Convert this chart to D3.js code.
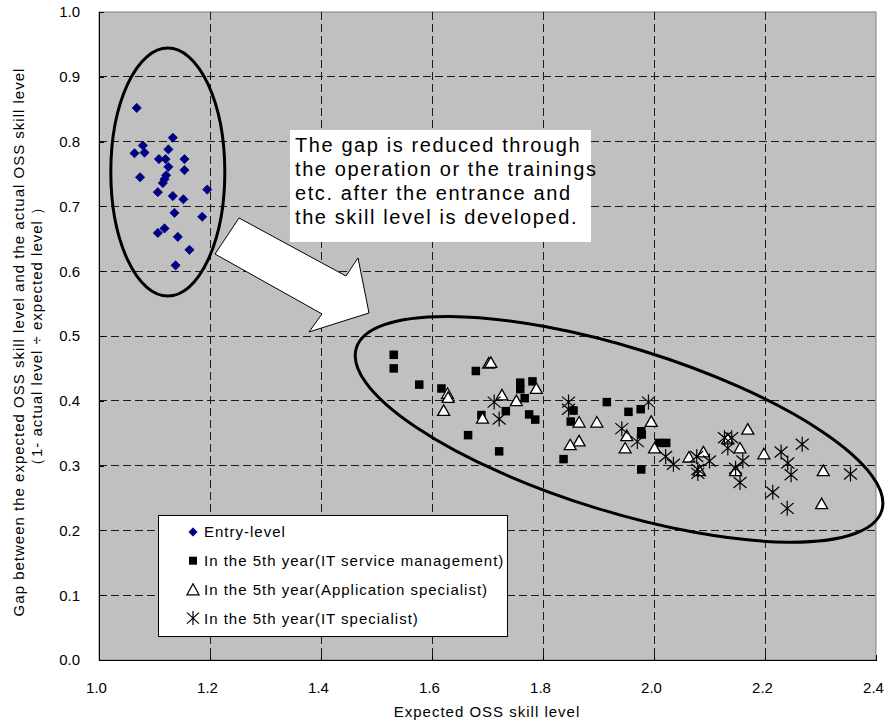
<!DOCTYPE html>
<html>
<head>
<meta charset="utf-8">
<script src="https://cdn.jsdelivr.net/npm/d3@7"></script>
<style>
  body { margin: 0; background: #fff; }
  text { font-family: "Liberation Sans", Arial, sans-serif; fill: #000; }
</style>
</head>
<body>
<svg id="chart" width="885" height="724"></svg>
<script>
// Entry-level staff: [expected skill level, gap]
const entryLevel = [
  [1.068,0.852],[1.133,0.806],[1.079,0.794],[1.064,0.782],[1.082,0.783],[1.125,0.788],
  [1.108,0.773],[1.120,0.773],[1.154,0.773],[1.125,0.761],[1.154,0.756],[1.074,0.745],
  [1.121,0.748],[1.118,0.742],[1.115,0.736],[1.195,0.726],[1.106,0.722],[1.133,0.716],
  [1.152,0.711],[1.136,0.690],[1.186,0.684],[1.106,0.659],[1.118,0.666],[1.142,0.653],
  [1.163,0.633],[1.138,0.609]
];
// 5th year, IT service management
const itServiceMgmt = [
  [1.531,0.471],[1.531,0.450],[1.577,0.425],[1.679,0.446],[1.617,0.419],[1.759,0.428],
  [1.781,0.430],[1.759,0.418],[1.767,0.404],[1.689,0.378],[1.733,0.384],[1.775,0.379],
  [1.786,0.371],[1.665,0.347],[1.721,0.322],[1.915,0.398],[1.855,0.385],[1.954,0.383],
  [1.976,0.387],[1.850,0.368],[1.977,0.353],[1.978,0.348],[2.009,0.335],[2.022,0.335],
  [1.837,0.310],[1.977,0.294]
];
// 5th year, application specialist
const appSpecialist = [
  [1.702,0.457],[1.706,0.458],[1.628,0.410],[1.629,0.404],[1.621,0.384],[1.691,0.372],
  [1.726,0.408],[1.752,0.399],[1.788,0.418],[1.865,0.366],[1.897,0.366],[1.995,0.367],
  [1.865,0.337],[1.849,0.331],[1.951,0.345],[1.948,0.326],[2.001,0.326],[2.063,0.312],
  [2.089,0.320],[2.169,0.355],[2.155,0.326],[2.198,0.317],[2.147,0.291],[2.305,0.291],
  [2.302,0.240],[2.082,0.291],[2.133,0.340]
];
// 5th year, IT specialist
const itSpecialist = [
  [1.712,0.398],[1.721,0.372],[1.846,0.398],[1.846,0.387],[1.990,0.398],[1.942,0.357],
  [1.970,0.337],[2.021,0.314],[2.035,0.302],[2.077,0.314],[2.079,0.294],[2.127,0.343],
  [2.140,0.343],[2.133,0.327],[2.100,0.307],[2.079,0.288],[2.147,0.296],[2.160,0.307],
  [2.155,0.274],[2.229,0.321],[2.241,0.304],[2.247,0.286],[2.267,0.333],[2.354,0.287],
  [2.214,0.259],[2.240,0.234]
];

const xTicks = [1.0, 1.2, 1.4, 1.6, 1.8, 2.0, 2.2, 2.4];
const yTicks = [0.0, 0.1, 0.2, 0.3, 0.4, 0.5, 0.6, 0.7, 0.8, 0.9, 1.0];
const seriesNames = [
  "Entry-level",
  "In the 5th year(IT service management)",
  "In the 5th year(Application specialist)",
  "In the 5th year(IT specialist)"
];
const xTitle = "Expected OSS skill level";
const yTitleLines = [
  "Gap between the expected OSS skill level and the actual OSS skill level",
  "\uFF081- actual level \u00F7 expected level \uFF09"
];
const noteLines = [
  "The gap is reduced through",
  "the operation or the trainings",
  "etc. after the entrance and",
  "the skill level is developed."
];

const svg = d3.select("#chart");
const x = d3.scaleLinear().domain([1.0, 2.4]).range([99, 876]);
const y = d3.scaleLinear().domain([0, 1]).range([660, 12]);

// plot background
svg.append("rect")
  .attr("x", x(1.0)).attr("y", y(1.0))
  .attr("width", x(2.4) - x(1.0)).attr("height", y(0) - y(1.0))
  .attr("fill", "#C0C0C0").attr("stroke", "#808080").attr("stroke-width", 1);

// dashed grid
const grid = svg.append("g").attr("stroke", "#1a1a1a").attr("stroke-width", 1)
  .attr("stroke-dasharray", "8,4").attr("shape-rendering", "crispEdges");
grid.selectAll("line.v").data(xTicks.slice(1, -1)).join("line")
  .attr("x1", d => x(d)).attr("x2", d => x(d)).attr("y1", y(1.0)).attr("y2", y(0));
grid.selectAll("line.h").data(yTicks.slice(1, -1)).join("line")
  .attr("y1", d => y(d)).attr("y2", d => y(d)).attr("x1", x(1.0)).attr("x2", x(2.4));

// axes with inside ticks
const xAxis = svg.append("g").attr("transform", `translate(0,${y(0)})`)
  .call(d3.axisBottom(x).tickValues(xTicks).tickFormat(d3.format(".1f"))
    .tickSizeInner(-5).tickSizeOuter(0).tickPadding(22));
const yAxis = svg.append("g").attr("transform", `translate(${x(1.0)},0)`)
  .call(d3.axisLeft(y).tickValues(yTicks).tickFormat(d3.format(".1f"))
    .tickSizeInner(-5).tickSizeOuter(0).tickPadding(19));
[xAxis, yAxis].forEach(a => {
  a.selectAll("text").style("font-family", '"Liberation Sans", Arial, sans-serif')
    .style("font-size", "15px").attr("fill", "#000");
  a.selectAll("path, line").attr("stroke", "#000").attr("shape-rendering", "crispEdges");
});
xAxis.selectAll("text").attr("x", -3);

// axis titles
svg.append("text").attr("x", 487).attr("y", 717).attr("text-anchor", "middle")
  .style("font-size", "15px").style("letter-spacing", "1px").text(xTitle);
const yt = svg.append("g").attr("transform", "rotate(-90)");
yt.append("text").attr("x", -342).attr("y", 24).attr("text-anchor", "middle")
  .style("font-size", "15px").style("letter-spacing", "1px").text(yTitleLines[0]);
yt.append("text").attr("x", -336).attr("y", 42).attr("text-anchor", "middle")
  .style("font-size", "15px").style("letter-spacing", "1px").text(yTitleLines[1]);

// marker shapes
const diamondPath = s => `M0,${-s}L${s},0L0,${s}L${-s},0Z`;
const trianglePath = (w, h) => `M0,${-h * 0.6}L${w / 2},${h * 0.4}L${-w / 2},${h * 0.4}Z`;
const starPath = (vx, vy, v) => `M${-vx},${-vy}L${vx},${vy}M${-vx},${vy}L${vx},${-vy}M0,${-v}L0,${v}`;

function drawDiamond(g, cx, cy, s) {
  g.append("path").attr("d", diamondPath(s)).attr("transform", `translate(${cx},${cy})`)
    .attr("fill", "#000080").attr("stroke", "#000080").attr("stroke-width", 0.8);
}
function drawSquare(g, cx, cy, s) {
  g.append("rect").attr("x", cx - s / 2).attr("y", cy - s / 2).attr("width", s).attr("height", s)
    .attr("fill", "#000");
}
function drawTriangle(g, cx, cy, w, h) {
  g.append("path").attr("d", trianglePath(w, h)).attr("transform", `translate(${cx},${cy})`)
    .attr("fill", "#fff").attr("stroke", "#000").attr("stroke-width", 1.3)
    .attr("stroke-linejoin", "miter");
}
function drawStar(g, cx, cy, vx, vy, v) {
  g.append("path").attr("d", starPath(vx, vy, v)).attr("transform", `translate(${cx},${cy})`)
    .attr("fill", "none").attr("stroke", "#000").attr("stroke-width", 1.2);
}

// annotation ellipses, positioned in data space and sized in pixels
const ellipses = svg.append("g").attr("fill", "none").attr("stroke", "#000").attr("stroke-width", 3);
ellipses.append("ellipse").attr("cx", x(1.124)).attr("cy", y(0.753)).attr("rx", 57).attr("ry", 124);
ellipses.append("ellipse").attr("rx", 275).attr("ry", 82)
  .attr("transform", `translate(${x(1.937)},${y(0.356)}) rotate(17.2)`);

// series marks
const marks = svg.append("g");
entryLevel.forEach(d => drawDiamond(marks, x(d[0]), y(d[1]), 4.6));
itServiceMgmt.forEach(d => drawSquare(marks, x(d[0]), y(d[1]), 8.5));
appSpecialist.forEach(d => drawTriangle(marks, x(d[0]), y(d[1]), 12, 10.5));
itSpecialist.forEach(d => drawStar(marks, x(d[0]), y(d[1]), 6.5, 5.5, 7.5));

// block arrow from the entry-level group to the 5th-year group
const arrowPts = [
  [1.2523,0.6821],[1.4450,0.5926],[1.4667,0.6204],[1.4865,0.5355],
  [1.3784,0.5062],[1.4018,0.5340],[1.2090,0.6265]
];
svg.append("path")
  .attr("d", d3.line().x(d => x(d[0])).y(d => y(d[1]))(arrowPts) + "Z")
  .attr("fill", "#fff").attr("stroke", "#000").attr("stroke-width", 1);

// note box
const noteBox = { x0: 1.3441, x1: 1.8865, y0: 0.8179, y1: 0.6451 };
svg.append("rect").attr("x", x(noteBox.x0)).attr("y", y(noteBox.y0))
  .attr("width", x(noteBox.x1) - x(noteBox.x0)).attr("height", y(noteBox.y1) - y(noteBox.y0))
  .attr("fill", "#fff");
noteLines.forEach((t, i) => {
  svg.append("text").attr("x", x(noteBox.x0) + 5).attr("y", y(noteBox.y0) + 22 + i * 24)
    .style("font-size", "20px").style("letter-spacing", "1.6px").text(t);
});

// legend
const leg = { x0: 1.1063, x1: 1.7351, y0: 0.2238, y1: 0.0370 };
const lx = x(leg.x0), ly = y(leg.y0);
svg.append("rect").attr("x", lx + 0.5).attr("y", ly + 0.5)
  .attr("width", x(leg.x1) - lx).attr("height", y(leg.y1) - ly)
  .attr("fill", "#fff").attr("stroke", "#000").attr("stroke-width", 1);
const lg = svg.append("g");
seriesNames.forEach((name, i) => {
  const cy = ly + 17 + i * 28.7;
  const mx = lx + 35;
  if (i === 0) drawDiamond(lg, mx, cy, 4.2);
  if (i === 1) drawSquare(lg, mx, cy, 8);
  if (i === 2) drawTriangle(lg, mx, cy + 1, 12, 11);
  if (i === 3) drawStar(lg, mx, cy, 6, 5.5, 7);
  lg.append("text").attr("x", lx + 46).attr("y", cy + 5.5)
    .style("font-size", "15px").style("letter-spacing", "1px").text(name);
});
</script>
</body>
</html>
